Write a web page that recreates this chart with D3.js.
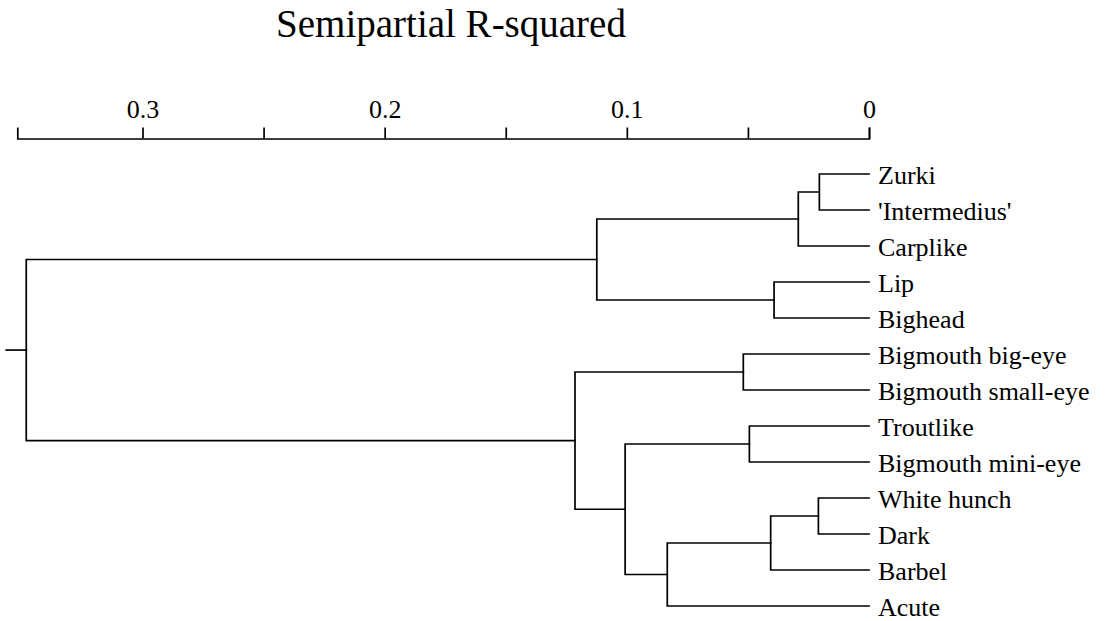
<!DOCTYPE html>
<html>
<head>
<meta charset="utf-8">
<script src="https://cdn.jsdelivr.net/npm/d3@7"></script>
<style>
  html, body { margin: 0; padding: 0; background: #fff; }
  svg { display: block; }
  text { font-family: "Liberation Serif", "Times New Roman", serif; fill: #000; }
</style>
</head>
<body>
<svg id="chart" width="1106" height="621"></svg>
<script>
// Cluster members, listed in dendrogram order (top to bottom)
const leaves = [
  "Zurki", "'Intermedius'", "Carplike", "Lip", "Bighead",
  "Bigmouth big-eye", "Bigmouth small-eye", "Troutlike", "Bigmouth mini-eye",
  "White hunch", "Dark", "Barbel", "Acute"
];

// Each join merges two earlier clusters; leaves are 0..12, join k makes cluster 13+k
const joins = [
  [0, 1], [13, 2], [3, 4], [14, 15],
  [5, 6], [7, 8], [9, 10], [19, 11], [20, 12],
  [18, 21], [17, 22], [16, 23]
];

// Semipartial R-squared at which each join happens
const joinHeights = [
  0.0205, 0.0292, 0.0392, 0.1124,
  0.0519, 0.0494, 0.0209, 0.0406, 0.0833,
  0.1007, 0.1214, 0.348
];

// Axis ticks and the ones that carry labels
const tickValues = [0, 0.05, 0.1, 0.15, 0.2, 0.25, 0.3];
const labelledTicks = [0, 0.1, 0.2, 0.3];
const axisMax = 0.3517;

const svg = d3.select("#chart");

// Build the cluster tree from the join list
const nodes = leaves.map((name, i) => ({ id: i, name: name, height: 0 }));
joins.forEach((pair, k) => {
  nodes.push({ id: leaves.length + k, height: joinHeights[k],
               children: pair.map(j => nodes[j]) });
});
const root = d3.hierarchy(nodes[nodes.length - 1]);

const x = d3.scaleLinear().domain([axisMax, 0]).range([17.3, 869]);
const y = d3.scalePoint().domain(leaves).range([174, 606]);

// Leaves sit on the point scale; each join sits halfway between its children
root.eachAfter(d => {
  d.px = x(d.data.height);
  if (d.children) {
    d.py = d3.mean(d.children, c => c.py);
  } else {
    d.py = y(d.data.name);
  }
});

// Top axis
const axis = d3.axisTop(x)
  .tickValues(tickValues)
  .tickSize(11)
  .tickSizeOuter(11)
  .tickPadding(10)
  .tickFormat(v => labelledTicks.some(t => Math.abs(t - v) < 1e-9) ? d3.format("~g")(v) : "");

const gAxis = svg.append("g")
  .attr("transform", "translate(0,138.5)")
  .call(axis);
gAxis.selectAll("path, line").attr("stroke", "#000").attr("stroke-width", 1.7);
gAxis.selectAll("text")
  .style("font-family", "'Liberation Serif', 'Times New Roman', serif")
  .style("font-size", "26px")
  .attr("fill", "#000");

// Axis title
svg.append("text")
  .attr("x", 451)
  .attr("y", 37)
  .attr("text-anchor", "middle")
  .style("font-size", "39px")
  .text("Semipartial R-squared");

// Elbow links: vertical bar at the parent's height, horizontal run to each child
const gLinks = svg.append("g")
  .attr("fill", "none")
  .attr("stroke", "#000")
  .attr("stroke-width", 1.7)
  .attr("stroke-linecap", "square");

root.descendants().filter(d => d.children).forEach(d => {
  const [a, b] = d.children;
  gLinks.append("path")
    .attr("d", `M${a.px},${a.py}H${d.px}V${b.py}H${b.px}`);
});

// Short stub to the left of the root
gLinks.append("path")
  .attr("d", `M${root.px},${root.py}H${root.px - 20}`);

// Leaf labels
svg.append("g")
  .selectAll("text")
  .data(root.leaves())
  .join("text")
  .attr("x", x(0) + 9)
  .attr("y", d => d.py)
  .attr("dy", "0.38em")
  .style("font-size", "26px")
  .text(d => d.data.name);
</script>
</body>
</html>
